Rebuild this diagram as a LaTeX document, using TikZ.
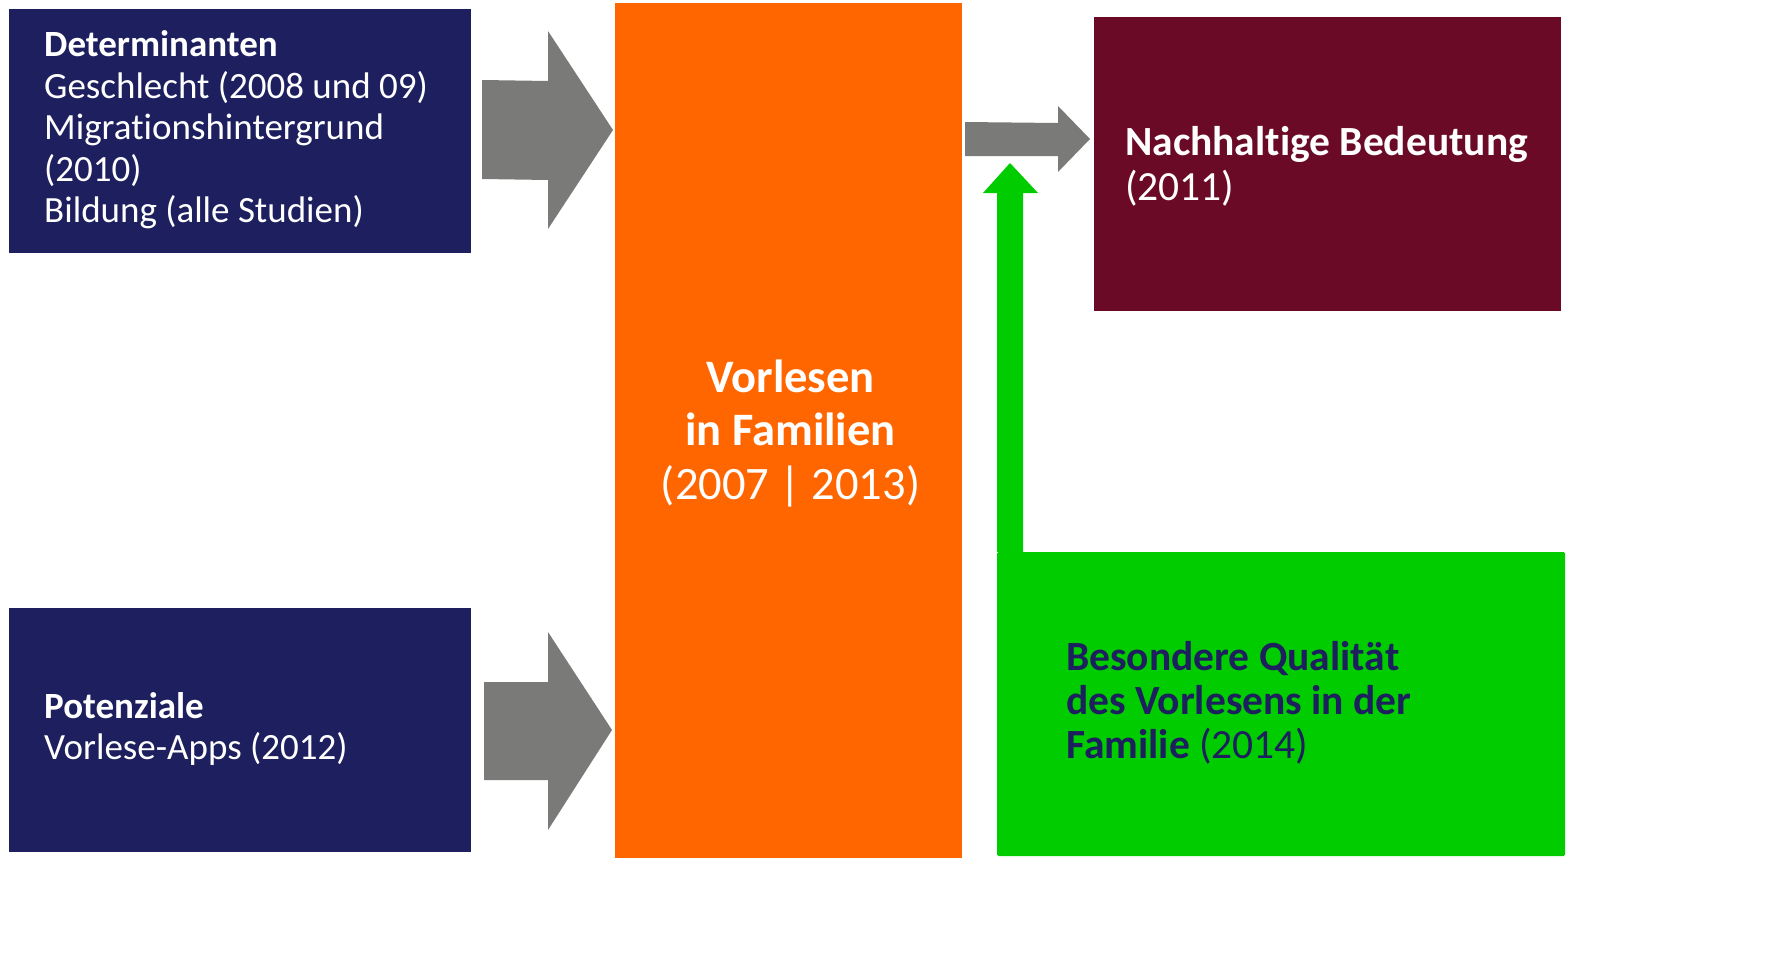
\documentclass[tikz,border=0pt]{standalone}
\usepackage{fontspec}
\setmainfont{Carlito}[Ligatures={NoCommon}]
\usetikzlibrary{calc}
\definecolor{navy}{HTML}{1E1F5E}
\definecolor{orangebox}{HTML}{FF6600}
\definecolor{maroon}{HTML}{6B0A27}
\definecolor{grayarrow}{HTML}{7A7A78}
\definecolor{greenbox}{HTML}{00CC00}
\begin{document}
\begin{tikzpicture}[x=1pt,y=-1pt,
  box/.style={anchor=north west,inner sep=0pt,outer sep=0pt,draw=none},
  lefttext/.style={font=\fontsize{37}{41.5}\selectfont,text=white,align=left,anchor=west,inner sep=0pt},
  blockarrow/.style={fill=grayarrow,draw=none}]
\useasboundingbox (0,0) rectangle (1781,974);
% boxes
\fill[navy] (9,9) rectangle (471,253);
\node[box,minimum width=462pt,minimum height=244pt] (det) at (9,9) {};
\fill[navy] (9,608) rectangle (471,852);
\node[box,minimum width=462pt,minimum height=244pt] (pot) at (9,608) {};
\fill[orangebox] (615,3) rectangle (962,858);
\node[box,minimum width=347pt,minimum height=855pt] (vor) at (615,3) {};
\fill[maroon] (1094,17) rectangle (1561,311);
\node[box,minimum width=467pt,minimum height=294pt] (nach) at (1094,17) {};
% green box with arrow
\fill[greenbox,rounded corners=1.5pt] (997,856) -- (997,552) -- (1565,552) -- (1565,856) -- cycle;
\node[box,minimum width=568pt,minimum height=304pt] (bes) at (997,552) {};
\fill[greenbox] (bes.north west) -- (997,193) -- (983,193) -- (1010,163) -- (1038,193) -- (1023,193) -- (1023,553) -- cycle;
% texts
\node[lefttext] (dettext) at ($(det.west)+(35,-1)$) {\textbf{Determinanten}\\Geschlecht (2008 und 09)\\Migrationshintergrund\\(2010)\\Bildung (alle Studien)};
\node[lefttext] (pottext) at ($(pot.west)+(35,-1)$) {\textbf{Potenziale}\\Vorlese-Apps (2012)};
\node[font=\fontsize{46.5}{53.5}\selectfont,text=white,align=center,inner sep=0pt] (vortext) at ($(vor.center)+(2,3)$) {\textbf{Vorlesen}\\\textbf{in Familien}\\(2007 | 2013)};
\node[font=\fontsize{41.5}{45}\selectfont,text=white,align=left,anchor=west,inner sep=0pt] (nachtext) at ($(nach.west)+(31,2)$) {\textbf{Nachhaltige Bedeutung}\\(2011)};
\node[font=\fontsize{41.5}{44}\selectfont,text=navy,align=left,anchor=west,inner sep=0pt] (bestext) at ($(bes.west)+(69,-1)$) {\textbf{Besondere Qualität}\\\textbf{des Vorlesens in der}\\\textbf{Familie} (2014)};
% gray block arrows
\fill[blockarrow] (482,80) -- (548,81) -- (548,31) -- (613,130) -- (548,229) -- (548,180) -- (482,179) -- cycle;
\fill[blockarrow] (484,682) -- (548,682) -- (548,632) -- (612,730) -- (548,830) -- (548,780) -- (484,780) -- cycle;
\fill[blockarrow] (965,122) -- (1058,123) -- (1058,106) -- (1090,139) -- (1058,172) -- (1058,156) -- (965,156) -- cycle;
\end{tikzpicture}
\end{document}
